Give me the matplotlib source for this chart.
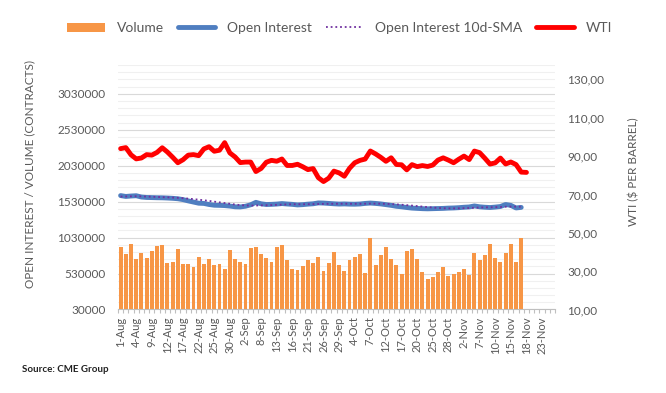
#%%imports
import matplotlib
matplotlib.use("Agg")
import matplotlib.pyplot as plt
import matplotlib.ticker as mticker
from matplotlib.lines import Line2D
from matplotlib.patches import Patch
import numpy as np
import pandas as pd

plt.rcParams["font.family"] = ["Lato", "DejaVu Sans"]

#%%data
#trading days on the category axis (labor day is not traded)
days = pd.bdate_range("2022-08-01", "2022-11-25").drop(pd.Timestamp("2022-09-05"))
day_labels = [f"{d.day}-{d.strftime('%b')}" for d in days]

#volume in thousand contracts
volume_k = [
    904, 807, 946, 734, 821, 748, 849, 918, 932, 682,
    696, 877, 668, 668, 627, 765, 668, 738, 655, 668,
    599, 863, 738, 696, 668, 890, 904, 807, 752, 696,
    904, 932, 724, 599, 585, 641, 724, 682, 765, 571,
    682, 835, 655, 571, 724, 765, 807, 544, 1029, 655,
    793, 904, 738, 655, 530, 849, 877, 738, 557, 460,
    488, 557, 627, 502, 530, 557, 599, 516, 821, 724,
    793, 946, 752, 696, 821, 946, 696, 1029,
]
#open interest in thousand contracts
open_interest_k = [
    1614, 1602, 1608, 1612, 1594, 1588, 1586, 1584, 1583, 1580,
    1576, 1570, 1558, 1540, 1524, 1508, 1505, 1490, 1480, 1478,
    1475, 1468, 1458, 1456, 1466, 1486, 1520, 1500, 1490, 1492,
    1496, 1503, 1497, 1492, 1484, 1488, 1495, 1500, 1512, 1510,
    1505, 1500, 1496, 1498, 1495, 1494, 1497, 1505, 1510, 1505,
    1498, 1488, 1478, 1465, 1458, 1448, 1440, 1436, 1432, 1430,
    1432, 1434, 1436, 1440, 1442, 1446, 1452, 1456, 1470, 1458,
    1452, 1448, 1454, 1462, 1490, 1478, 1442, 1450,
]
#10 day simple moving average of open interest, thousand contracts
oi_sma10_k = [
    1600, 1602, 1604, 1605, 1603, 1600, 1598, 1595, 1592, 1590,
    1586, 1583, 1578, 1572, 1565, 1557, 1549, 1540, 1530, 1520,
    1510, 1500, 1490, 1482, 1477, 1475, 1476, 1478, 1480, 1482,
    1485, 1488, 1492, 1494, 1494, 1494, 1494, 1496, 1497, 1498,
    1500, 1500, 1501, 1501, 1500, 1500, 1500, 1501, 1502, 1502,
    1501, 1499, 1496, 1492, 1487, 1481, 1475, 1468, 1461, 1454,
    1448, 1442, 1438, 1436, 1436, 1437, 1439, 1441, 1445, 1448,
    1450, 1452, 1453, 1455, 1459, 1461, 1460, 1459,
]
#wti in $ per barrel (one day longer than the futures data)
wti = [
    93.89, 94.42, 90.66, 88.54, 89.01, 90.76, 90.50, 91.93, 94.34, 92.09,
    89.41, 86.53, 88.11, 90.50, 90.77, 90.23, 93.74, 94.89, 92.52, 93.06,
    97.01, 91.64, 89.55, 86.61, 86.87, 86.88, 81.94, 83.54, 86.79, 87.78,
    87.31, 88.48, 85.10, 85.11, 85.73, 84.45, 82.94, 83.49, 78.74, 76.71,
    78.50, 82.15, 81.23, 79.49, 83.63, 86.52, 87.76, 88.45, 92.64, 91.13,
    89.35, 87.27, 89.11, 85.61, 85.46, 82.82, 85.55, 84.51, 85.05, 84.58,
    85.32, 87.91, 89.08, 87.90, 86.53, 88.37, 90.00, 88.17, 92.61, 91.79,
    88.91, 85.83, 86.47, 88.96, 85.87, 86.92, 85.59, 81.64, 81.50,
]

#colours
C_VOL = "#F79646"
C_OI = "#4F7EC0"
C_SMA = "#7030A0"
C_WTI = "#FF0000"
C_TXT = "#595959"


#%%definitions
def plot_chart(fname:str):
    """
        - draws volume bars, open interest lines and wti on a twin axis
    """
    n_cat = len(day_labels)
    x_all = np.arange(n_cat)
    x = x_all[:len(volume_k)]

    fig = plt.figure(figsize=(6.66, 3.93), dpi=100)
    ax = fig.add_axes([0.1772, 0.2125, 0.6562, 0.6221])

    #volume + open interest (left axis)
    ax.bar(x, np.array(volume_k)*1000, width=0.75, color=C_VOL, zorder=2)
    ax.plot(x, np.array(open_interest_k)*1000, color=C_OI, lw=3.5, solid_capstyle="round", solid_joinstyle="round", zorder=3)
    ax.plot(x, np.array(oi_sma10_k)*1000, color=C_SMA, lw=1.3, ls=(0, (1, 1.6)), zorder=4)

    ax.set_xlim(-0.5, n_cat-0.5)
    ax.set_ylim(30000, 3430000)
    ax.set_yticks(np.arange(30000, 3030001, 500000))
    ax.yaxis.set_minor_locator(mticker.MultipleLocator(100000, offset=30000))
    ax.yaxis.set_major_formatter(mticker.FuncFormatter(lambda v, p: f"{int(round(v))}"))
    ax.grid(axis="y", which="major", color="#D9D9D9", lw=0.8)
    ax.grid(axis="y", which="minor", color="#F0F0F0", lw=0.8)
    ax.set_axisbelow(True)

    ax.set_xticks(x_all[::3])
    ax.set_xticklabels(day_labels[::3], rotation=90)
    ax.set_xticks(np.arange(-0.5, n_cat, 1), minor=True)
    ax.tick_params(axis="x", which="major", length=0, pad=5, labelsize=8, labelcolor=C_TXT)
    ax.tick_params(axis="x", which="minor", length=3, color="#BFBFBF", width=0.8)
    ax.tick_params(axis="y", which="both", length=0, pad=9, labelsize=8.5, labelcolor=C_TXT)
    for s in ["left", "right", "top"]:
        ax.spines[s].set_visible(False)
    ax.spines["bottom"].set_color("#BFBFBF")

    #wti (right axis)
    ax2 = ax.twinx()
    ax2.plot(x_all[:len(wti)], wti, color=C_WTI, lw=3.5, solid_capstyle="round", solid_joinstyle="round", zorder=5)
    ax2.set_ylim(10, 137.5)
    ax2.set_yticks(np.arange(10, 131, 20))
    ax2.yaxis.set_major_formatter(mticker.FuncFormatter(lambda v, p: f"{v:.2f}".replace(".", ",")))
    ax2.tick_params(axis="y", length=0, pad=9, labelsize=8.5, labelcolor=C_TXT)
    for s in ax2.spines.values():
        s.set_visible(False)

    #axis titles
    fig.text(30/666, 1-174/393, "OPEN INTEREST / VOLUME (CONTRACTS)", rotation=90,
        ha="center", va="center", fontsize=8.5, color=C_TXT)
    fig.text(634/666, 1-172/393, "WTI ($ PER BARREL)", rotation=90,
        ha="center", va="center", fontsize=8.5, color=C_TXT)

    #legend
    handles = [
        Patch(facecolor=C_VOL, edgecolor="none", label="Volume"),
        Line2D([], [], color=C_OI, lw=3.5, solid_capstyle="round", label="Open Interest"),
        Line2D([], [], color=C_SMA, lw=1.3, ls=(0, (1, 1.6)), label="Open Interest 10d-SMA"),
        Line2D([], [], color=C_WTI, lw=3.5, solid_capstyle="round", label="WTI"),
    ]
    fig.legend(handles=handles, loc="center", bbox_to_anchor=(0.51, 1-28/393), ncol=4,
        frameon=False, fontsize=10, handlelength=2.7, handleheight=0.6, handletextpad=0.85,
        columnspacing=1.0, labelcolor=C_TXT)

    fig.text(22/666, 1-370/393, "Source: CME Group", fontsize=7, fontweight="bold",
        ha="left", va="center", color="#222222")

    fig.savefig(fname, dpi=100)
    return

#%%main
def main():
    plot_chart("out.png")
    return

if __name__ == "__main__":
    main()
